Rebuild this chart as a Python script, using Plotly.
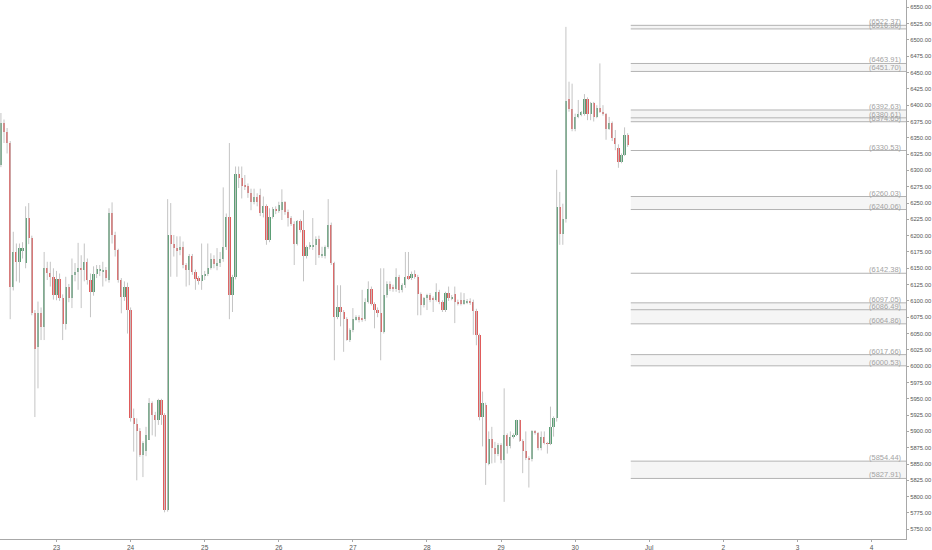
import pandas as pd
import plotly.graph_objects as go

# ---------------- data (hourly candles, BTC) ----------------
start_time = "2018-06-22 06:00"

open_ = [6308, 6373, 6359, 6342, 6121, 6175, 6160, 6178, 6158, 6227,
         6196, 6081, 6029, 6082, 6060, 6150, 6143, 6136, 6109, 6134,
         6105, 6064, 6121, 6104, 6140, 6145, 6151, 6147, 6160, 6132,
         6113, 6142, 6146, 6145, 6148, 6132, 6234, 6201, 6178, 6132,
         6106, 6122, 6086, 5920, 5911, 5900, 5864, 5870, 5887, 5943,
         5925, 5917, 5948, 5925, 5780, 6201, 6187, 6181, 6178, 6183,
         6155, 6147, 6169, 6145, 6135, 6131, 6138, 6142, 6150, 6165,
         6155, 6158, 6165, 6183, 6229, 6109, 6137, 6294, 6289, 6277,
         6276, 6265, 6251, 6260, 6262, 6234, 6245, 6193, 6229, 6241,
         6238, 6239, 6251, 6237, 6227, 6218, 6188, 6222, 6209, 6169,
         6182, 6184, 6186, 6195, 6170, 6169, 6183, 6217, 6158, 6075,
         6090, 6083, 6073, 6040, 6055, 6072, 6075, 6073, 6072, 6099,
         6119, 6096, 6086, 6082, 6053, 6109, 6126, 6122, 6118, 6137,
         6117, 6124, 6138, 6135, 6142, 6137, 6111, 6094, 6104, 6109,
         6105, 6102, 6114, 6099, 6086, 6112, 6104, 6111, 6099, 6101,
         6096, 6097, 6100, 6099, 6085, 6048, 5922, 5940, 5850, 5889,
         5874, 5865, 5879, 5856, 5895, 5877, 5892, 5895, 5917, 5886,
         5870, 5860, 5857, 5901, 5897, 5874, 5892, 5882, 5881, 5906,
         5920, 6244, 6203, 6225, 6409, 6394, 6364, 6382, 6386, 6386,
         6409, 6386, 6403, 6382, 6395, 6390, 6386, 6364, 6373, 6349,
         6335, 6313, 6324, 6355]

high = [6388, 6378, 6365, 6345, 6206, 6188, 6188, 6190, 6245, 6250,
        6200, 6086, 6099, 6090, 6175, 6160, 6160, 6150, 6146, 6142,
        6110, 6137, 6126, 6165, 6158, 6189, 6170, 6188, 6165, 6142,
        6153, 6155, 6155, 6160, 6152, 6242, 6251, 6206, 6180, 6135,
        6130, 6128, 6090, 5935, 5920, 5905, 5885, 5907, 5951, 5946,
        5930, 5950, 5950, 5928, 6256, 6250, 6201, 6199, 6199, 6191,
        6158, 6172, 6172, 6148, 6138, 6188, 6146, 6188, 6173, 6170,
        6181, 6175, 6274, 6234, 6342, 6140, 6306, 6306, 6306, 6293,
        6280, 6272, 6272, 6265, 6272, 6260, 6248, 6242, 6244, 6245,
        6252, 6271, 6253, 6240, 6230, 6222, 6224, 6225, 6239, 6185,
        6190, 6227, 6199, 6200, 6183, 6185, 6256, 6220, 6160, 6124,
        6124, 6086, 6075, 6058, 6089, 6078, 6078, 6117, 6104, 6130,
        6122, 6098, 6090, 6150, 6150, 6130, 6130, 6125, 6150, 6140,
        6127, 6175, 6175, 6145, 6147, 6140, 6113, 6106, 6111, 6112,
        6107, 6127, 6117, 6101, 6114, 6122, 6109, 6122, 6102, 6113,
        6112, 6103, 6104, 6102, 6088, 6050, 5961, 5944, 5900, 5907,
        5884, 5882, 5882, 5966, 5897, 5900, 5897, 5918, 5918, 5888,
        5900, 5862, 5902, 5902, 5899, 5900, 5900, 5884, 5938, 5923,
        6301, 6267, 6249, 6520, 6436, 6433, 6387, 6408, 6391, 6417,
        6412, 6405, 6405, 6400, 6464, 6400, 6388, 6382, 6375, 6362,
        6340, 6326, 6366, 6357]

low = [6305, 6342, 6326, 6072, 6116, 6130, 6128, 6165, 6150, 6187,
       6078, 5922, 5966, 6040, 6040, 6132, 6122, 6102, 6101, 6100,
       6040, 6056, 6098, 6089, 6130, 6117, 6089, 6130, 6125, 6075,
       6108, 6135, 6138, 6122, 6130, 6128, 6188, 6168, 6128, 6081,
       6100, 6050, 5915, 5869, 5825, 5861, 5830, 5862, 5887, 5894,
       5892, 5910, 5910, 5776, 5777, 6137, 6168, 6137, 6170, 6150,
       6122, 6124, 6140, 6117, 6125, 6117, 6132, 6138, 6148, 6150,
       6147, 6152, 6160, 6178, 6072, 6083, 6133, 6273, 6257, 6270,
       6258, 6239, 6248, 6245, 6230, 6228, 6186, 6190, 6226, 6233,
       6235, 6224, 6232, 6214, 6215, 6155, 6185, 6205, 6130, 6165,
       6179, 6178, 6155, 6166, 6166, 6165, 6180, 6155, 6009, 6072,
       6061, 6022, 6039, 6037, 6052, 6070, 6067, 6068, 6069, 6096,
       6093, 6058, 6075, 6009, 6050, 6105, 6115, 6114, 6114, 6112,
       6113, 6120, 6132, 6132, 6134, 6078, 6078, 6090, 6086, 6098,
       6083, 6099, 6095, 6083, 6083, 6100, 6101, 6066, 6093, 6093,
       6094, 6095, 6094, 6048, 6032, 5917, 5877, 5818, 5848, 5851,
       5852, 5862, 5851, 5792, 5866, 5874, 5889, 5893, 5884, 5836,
       5856, 5814, 5854, 5895, 5871, 5871, 5880, 5866, 5879, 5892,
       5915, 6186, 6186, 6220, 6390, 6360, 6360, 6380, 6383, 6384,
       6377, 6377, 6375, 6380, 6388, 6384, 6347, 6362, 6345, 6331,
       6304, 6311, 6322, 6336]

close = [6372, 6359, 6342, 6121, 6175, 6160, 6181, 6181, 6227, 6196,
         6081, 6026, 6082, 6060, 6150, 6143, 6136, 6109, 6134, 6105,
         6064, 6121, 6104, 6140, 6145, 6151, 6147, 6160, 6132, 6113,
         6142, 6149, 6148, 6148, 6135, 6234, 6201, 6178, 6132, 6106,
         6122, 6086, 5920, 5911, 5900, 5864, 5882, 5894, 5943, 5925,
         5917, 5948, 5925, 5779, 6201, 6187, 6181, 6178, 6183, 6155,
         6147, 6169, 6145, 6133, 6131, 6140, 6142, 6150, 6165, 6157,
         6158, 6165, 6183, 6229, 6109, 6137, 6294, 6289, 6276, 6275,
         6265, 6251, 6260, 6252, 6235, 6245, 6193, 6229, 6241, 6238,
         6247, 6251, 6237, 6227, 6218, 6188, 6222, 6209, 6169, 6182,
         6186, 6186, 6195, 6170, 6171, 6183, 6217, 6158, 6075, 6090,
         6083, 6073, 6040, 6055, 6073, 6075, 6070, 6072, 6099, 6119,
         6096, 6086, 6082, 6053, 6109, 6126, 6119, 6118, 6137, 6117,
         6124, 6137, 6135, 6142, 6137, 6111, 6094, 6104, 6109, 6102,
         6102, 6114, 6099, 6086, 6112, 6104, 6106, 6099, 6096, 6096,
         6101, 6100, 6097, 6085, 6048, 5922, 5943, 5852, 5889, 5874,
         5865, 5879, 5856, 5895, 5877, 5892, 5895, 5917, 5886, 5870,
         5859, 5857, 5901, 5897, 5874, 5892, 5882, 5881, 5906, 5920,
         6244, 6203, 6225, 6407, 6394, 6364, 6382, 6387, 6389, 6409,
         6386, 6403, 6382, 6395, 6390, 6386, 6364, 6373, 6349, 6341,
         6313, 6324, 6355, 6339]

# horizontal levels (drawn from the bar after the last candle)
level_start = "2018-06-30 18:00"
level_values = [6522.37, 6516.86, 6463.91, 6451.70, 6392.63, 6380.61, 6374.65,
                6330.53, 6260.03, 6240.06, 6142.38, 6097.05, 6086.49, 6064.86,
                6017.66, 6000.53, 5854.44, 5827.91]
zone_tops = [6522.37, 6463.91, 6392.63, 6260.03, 6097.05, 6017.66, 5854.44]
zone_bottoms = [6516.86, 6451.70, 6374.65, 6240.06, 6064.86, 6000.53, 5827.91]

x_range = ["2018-06-22 05:42", "2018-07-04 11:09"]
y_range = [5735.1, 6561.2]
x_tick_dates = ["2018-06-23", "2018-06-24", "2018-06-25", "2018-06-26", "2018-06-27",
                "2018-06-28", "2018-06-29", "2018-06-30", "2018-07-01", "2018-07-02",
                "2018-07-03", "2018-07-04"]
x_tick_text = ["23", "24", "25", "26", "27", "28", "29", "30", "Jul", "2", "3", "4"]

# ---------------- figure ----------------
GREEN = "#5a9e74"
RED = "#e05b5b"
WICK = "#c4c4c4"

times = pd.date_range(start_time, periods=len(open_), freq="h")

fig = go.Figure()

# wicks
wx, wy = [], []
for t, h, l in zip(times, high, low):
    wx += [t, t, None]
    wy += [l, h, None]
fig.add_trace(go.Scatter(x=wx, y=wy, mode="lines", line=dict(color=WICK, width=1),
                         hoverinfo="skip", showlegend=False))

# bodies
up_t, up_base, up_h = [], [], []
dn_t, dn_base, dn_h = [], [], []
for t, o, c in zip(times, open_, close):
    if c >= o:
        up_t.append(t); up_base.append(o); up_h.append(max(c - o, 0.8))
    else:
        dn_t.append(t); dn_base.append(c); dn_h.append(o - c)

bar_w = 0.72 * 3600 * 1000
fig.add_trace(go.Bar(x=up_t, y=up_h, base=up_base, width=bar_w,
                     marker=dict(color=GREEN, line=dict(width=0)), showlegend=False))
fig.add_trace(go.Bar(x=dn_t, y=dn_h, base=dn_base, width=bar_w,
                     marker=dict(color=RED, line=dict(width=0)), showlegend=False))

# zones
for top, bot in zip(zone_tops, zone_bottoms):
    fig.add_shape(type="rect", xref="x", yref="y", x0=level_start, x1=x_range[1],
                  y0=bot, y1=top, fillcolor="#f5f5f5", line=dict(width=0), layer="below")

# level lines + labels
for v in level_values:
    fig.add_shape(type="line", xref="x", yref="y", x0=level_start, x1=x_range[1],
                  y0=v, y1=v, line=dict(color="#b3b3b3", width=1))
    fig.add_annotation(xref="x domain", yref="y", x=1, y=v, xanchor="right",
                       yanchor="bottom", xshift=-3, yshift=-2, showarrow=False,
                       text="(%.2f)" % v, borderpad=0,
                       font=dict(family="Liberation Sans", size=7.5, color="#a3a3a3"))

fig.update_layout(
    width=932, height=550,
    margin=dict(l=0, r=26, t=0, b=11, pad=0),
    paper_bgcolor="white", plot_bgcolor="white",
    barmode="overlay", bargap=0,
    showlegend=False,
    font=dict(family="Liberation Sans", size=6, color="#555555"),
)
fig.update_xaxes(type="date", range=x_range, showgrid=False, zeroline=False,
                 showline=True, linecolor="#a8a8a8", linewidth=1,
                 tickvals=x_tick_dates, ticktext=x_tick_text,
                 ticks="outside", ticklen=2, tickcolor="#a8a8a8",
                 tickfont=dict(size=6.5, color="#555555"), automargin=False,
                 rangeslider=dict(visible=False), fixedrange=True)
fig.update_yaxes(side="right", range=y_range, dtick=25, tick0=5750,
                 tickformat=".2f", showgrid=False, zeroline=False,
                 showline=True, linecolor="#a8a8a8", linewidth=1,
                 ticks="outside", ticklen=2, tickcolor="#a8a8a8",
                 tickfont=dict(size=5.8, color="#555555"), automargin=False,
                 fixedrange=True)

fig.write_html("out.html", config={"displayModeBar": False},
               post_script="document.body.style.margin='0px';document.body.style.overflow='hidden';")
